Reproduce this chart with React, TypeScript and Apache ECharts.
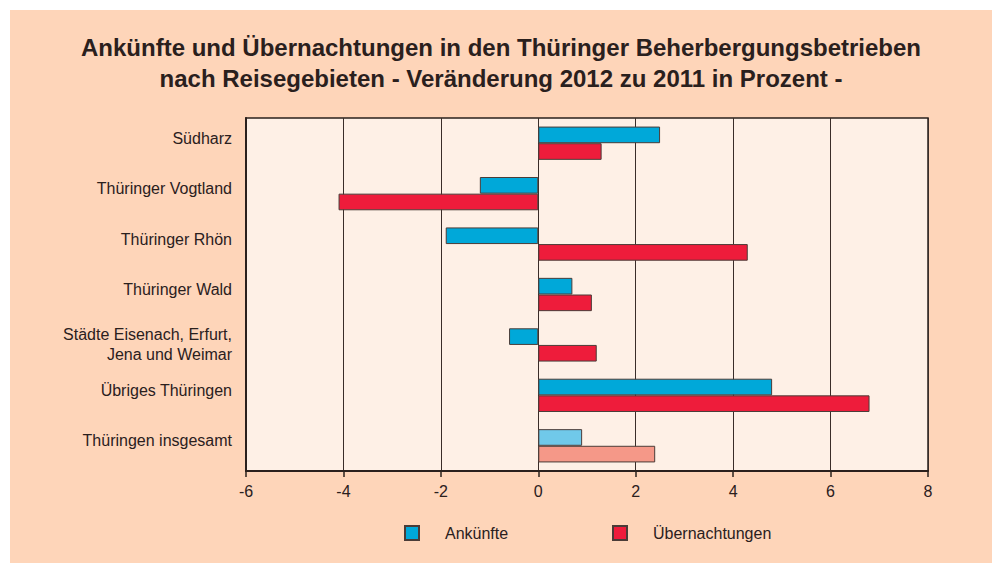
import React, { useEffect, useRef } from "react";
import * as echarts from "echarts";

const categories = [
  "Südharz",
  "Thüringer Vogtland",
  "Thüringer Rhön",
  "Thüringer Wald",
  "Städte Eisenach, Erfurt,\nJena und Weimar",
  "Übriges Thüringen",
  "Thüringen insgesamt",
];
const ankuenfte = [2.5, -1.2, -1.9, 0.7, -0.6, 4.8, 0.9];
const uebernachtungen = [1.3, -4.1, 4.3, 1.1, 1.2, 6.8, 2.4];
const xTicks = [-6, -4, -2, 0, 2, 4, 6, 8];
const titleLines = [
  "Ankünfte und Übernachtungen in den Thüringer Beherbergungsbetrieben",
  "nach Reisegebieten - Veränderung 2012 zu 2011 in Prozent -",
];

const BLUE = "#00a8d9";
const RED = "#ee1c3b";
const LIGHT_BLUE = "#70c9ea";
const LIGHT_RED = "#f59888";
const DARK = "#2a201d";
const BORDER = "#4a3c38";

export default function App() {
  const ref = useRef<HTMLDivElement>(null);
  useEffect(() => {
    if (!ref.current) return;
    const chart = echarts.init(ref.current, undefined, { renderer: "svg" });
    const last = categories.length - 1;
    const font = "Liberation Sans, Arial, sans-serif";
    const legendText = { fontFamily: font, fontSize: 16, color: DARK, padding: [0, 0, 0, 21] };
    chart.setOption({
      animation: false,
      backgroundColor: "#fed5b9",
      textStyle: { fontFamily: font },
      title: titleLines.map((t, i) => ({
        text: t,
        left: "center",
        top: 25 + i * 31,
        padding: 0,
        textStyle: {
          fontFamily: font,
          fontSize: 24,
          fontWeight: "bold",
          color: DARK,
        },
      })),
      legend: [
        {
          data: ["Ankünfte"],
          left: 394,
          top: 515,
          padding: 0,
          itemWidth: 14,
          itemHeight: 14,
          icon: "rect",
          textStyle: legendText,
        },
        {
          data: ["Übernachtungen"],
          left: 602,
          top: 515,
          padding: 0,
          itemWidth: 14,
          itemHeight: 14,
          icon: "rect",
          textStyle: legendText,
        },
      ],
      grid: {
        left: 236,
        right: 64,
        top: 108,
        bottom: 92,
        show: true,
        backgroundColor: "#fef0e6",
        borderColor: DARK,
        borderWidth: 1.5,
      },
      xAxis: {
        type: "value",
        min: xTicks[0],
        max: xTicks[xTicks.length - 1],
        interval: 2,
        axisLine: { show: true, onZero: false, lineStyle: { color: DARK, width: 2 } },
        axisTick: { show: true, length: 6, lineStyle: { color: DARK, width: 1.5 } },
        axisLabel: { fontFamily: font, fontSize: 16, color: DARK, margin: 12 },
        splitLine: { show: true, lineStyle: { color: "#3a2d29", width: 1 } },
      },
      yAxis: {
        type: "category",
        data: categories.map((c) =>
          c.indexOf("\n") >= 0
            ? c
            : { value: c, textStyle: { verticalAlign: "bottom", lineHeight: 10 } }
        ),
        inverse: true,
        axisLine: { show: true, onZero: false, lineStyle: { color: DARK, width: 2 } },
        axisTick: { show: false },
        axisLabel: {
          fontFamily: font,
          fontSize: 16,
          color: DARK,
          margin: 14,
          lineHeight: 20,
        },
        splitLine: { show: false },
      },
      series: [
        {
          name: "Ankünfte",
          type: "bar",
          barGap: "0%",
          barCategoryGap: "34%",
          itemStyle: { color: BLUE, borderColor: BORDER, borderWidth: 1 },
          data: ankuenfte.map((v, i) =>
            i === last ? { value: v, itemStyle: { color: LIGHT_BLUE } } : v
          ),
        },
        {
          name: "Übernachtungen",
          type: "bar",
          barGap: "0%",
          barCategoryGap: "34%",
          itemStyle: { color: RED, borderColor: BORDER, borderWidth: 1 },
          data: uebernachtungen.map((v, i) =>
            i === last ? { value: v, itemStyle: { color: LIGHT_RED } } : v
          ),
        },
      ],
    });
    return () => chart.dispose();
  }, []);
  return (
    <div
      ref={ref}
      style={{ position: "fixed", left: 10, top: 10, width: 982, height: 553 }}
    />
  );
}
